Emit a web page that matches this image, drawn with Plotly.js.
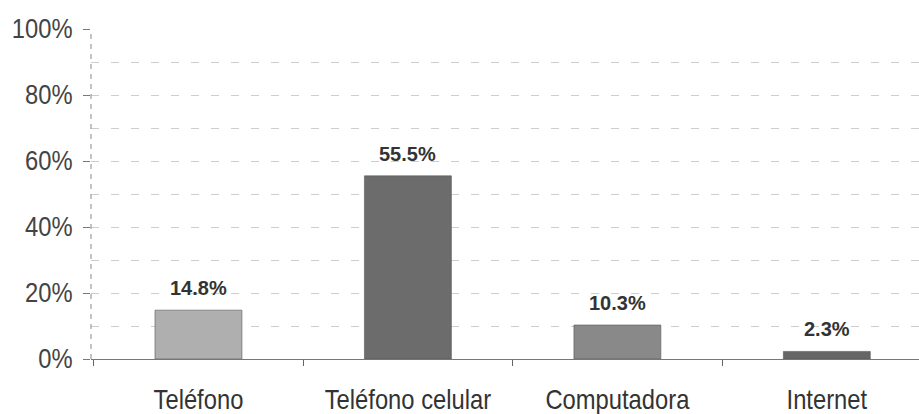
<!DOCTYPE html>
<html><head><meta charset="utf-8">
<script src="https://cdn.plot.ly/plotly-3.0.1.min.js"></script>
<style>body{margin:0;background:#fff}#c{width:919px;height:414px}</style>
</head><body><div id="c"></div>
<script>
const categories = ["Teléfono", "Teléfono celular", "Computadora", "Internet"];
const values = [14.8, 55.5, 10.3, 2.3];
const labels = ["14.8%", "55.5%", "10.3%", "2.3%"];
const barColors = ["#afafaf", "#6c6c6c", "#898989", "#666666"];
const yTicks = [0, 20, 40, 60, 80, 100];
const yTickText = ["0%", "20%", "40%", "60%", "80%", "100%"];

const font = "Liberation Sans, Arial, sans-serif";

const trace = {
  type: "bar", x: categories, y: values,
  marker: {color: barColors, line: {color: "#555", width: 0.6}},
  hoverinfo: "skip"
};
const annotations = categories.map((c, i) => ({
  x: c, y: values[i], xref: "x", yref: "y", text: labels[i],
  showarrow: false, yanchor: "bottom", yshift: 9,
  font: {family: font, size: 20, color: "#333", weight: "bold"}
}));
const layout = {
  width: 919, height: 414,
  margin: {l: 91, r: 0, t: 29, b: 55},
  paper_bgcolor: "#fff", plot_bgcolor: "#fff",
  showlegend: false, bargap: 0.585,
  font: {family: font, color: "#333"},
  xaxis: {
    type: "category", range: [-0.513, 3.44],
    tickson: "boundaries", ticks: "outside", ticklen: 6, tickcolor: "#666",
    showgrid: false, showline: true, linecolor: "#777", linewidth: 1,
    tickfont: {size: 27, family: font, color: "#333"}, zeroline: false,
    ticklabelstandoff: 17
  },
  yaxis: {
    range: [0, 100], tickvals: yTicks, ticktext: yTickText,
    ticks: "outside", ticklen: 7, tickcolor: "#777",
    tickfont: {size: 27, family: font, color: "#444"},
    showgrid: true, gridcolor: "#cdcdcd", griddash: "8px,12px", gridwidth: 1,
    minor: {dtick: 10, showgrid: true, gridcolor: "#cdcdcd", griddash: "8px,12px", gridwidth: 1},
    showline: false, zeroline: false, ticklabelstandoff: 5
  },
  shapes: [{type: "line", xref: "paper", yref: "paper", x0: 0, x1: 0, y0: 0, y1: 1,
    line: {color: "#888", width: 1, dash: "5px,5px"}}],
  annotations: annotations
};
const gd = document.getElementById("c");
Plotly.newPlot(gd, [trace], layout, {staticPlot: true, displayModeBar: false}).then(() => {
  // narrow the tick-label glyphs horizontally (reference uses a condensed face)
  gd.querySelectorAll(".xtick text, .ytick text").forEach(t => {
    const x = parseFloat(t.getAttribute("x")) || 0;
    const tr = t.getAttribute("transform") || "";
    t.setAttribute("transform", tr + ` translate(${x},0) scale(0.88,1) translate(${-x},0)`);
  });
});
</script></body></html>
